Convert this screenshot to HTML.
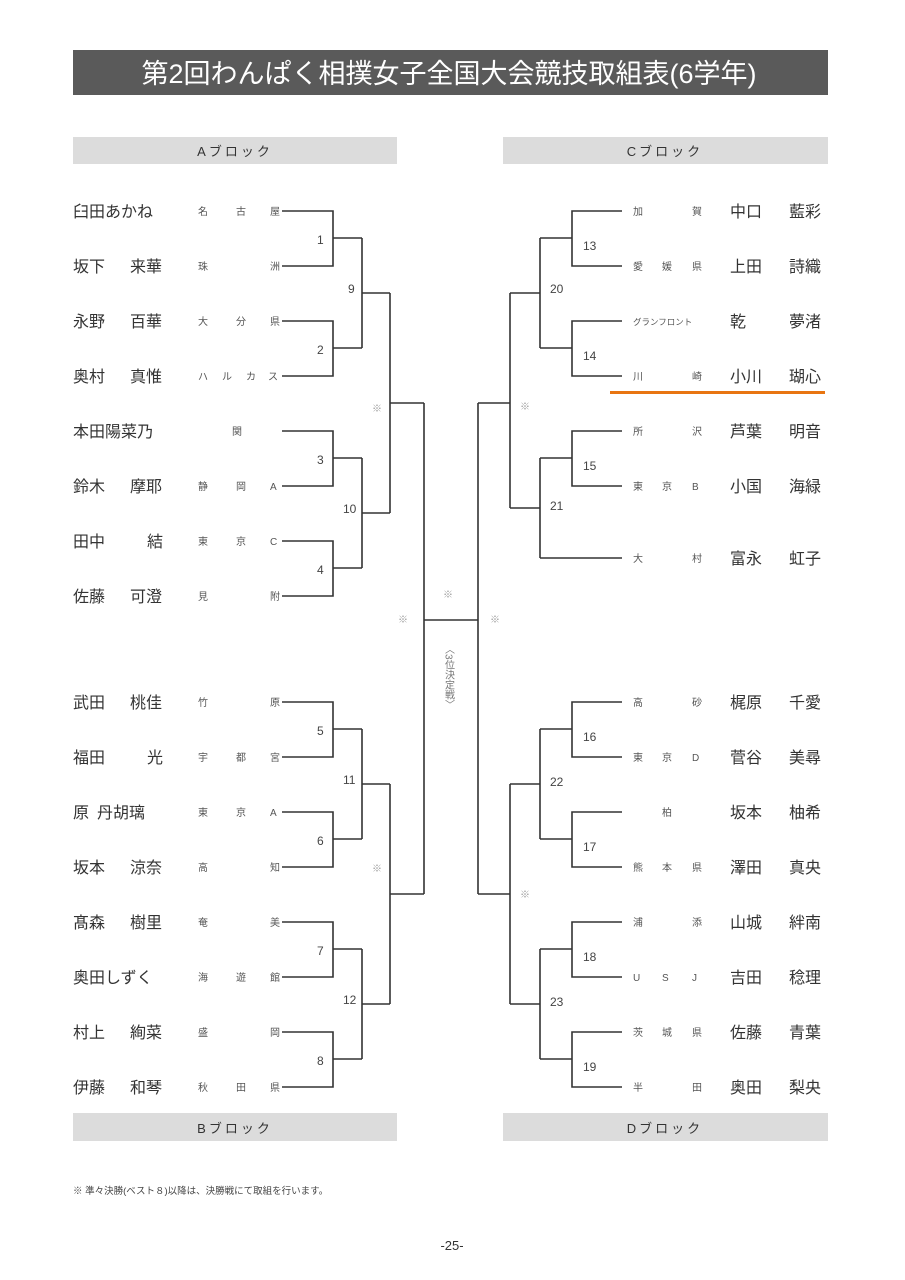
<!DOCTYPE html>
<html><head><meta charset="utf-8"><style>
html,body{margin:0;padding:0;background:#fff;}
svg{display:block;}
text{font-family:"Liberation Sans","Noto Sans CJK JP",sans-serif;}
.n{font-size:16px;fill:#333;}
.s{font-size:10px;fill:#555;}
.m{font-size:12px;fill:#444;}
.k{font-size:10px;fill:#999;}
</style></head><body>
<svg width="905" height="1280" viewBox="0 0 905 1280" xmlns="http://www.w3.org/2000/svg">
<rect x="73" y="50" width="755" height="45" fill="#5a5a5a"/>
<text x="449" y="83" text-anchor="middle" style="font-size:27px;fill:#fff">第2回わんぱく相撲女子全国大会競技取組表(6学年)</text>
<rect x="73" y="137" width="324" height="27" fill="#dcdcdc"/>
<rect x="503" y="137" width="325" height="27" fill="#dcdcdc"/>
<rect x="73" y="1113" width="324" height="28" fill="#dcdcdc"/>
<rect x="503" y="1113" width="325" height="28" fill="#dcdcdc"/>
<text x="235" y="156" text-anchor="middle" style="font-size:13px;fill:#333;letter-spacing:3px">Aブロック</text>
<text x="665" y="156" text-anchor="middle" style="font-size:13px;fill:#333;letter-spacing:3px">Cブロック</text>
<text x="235" y="1133" text-anchor="middle" style="font-size:13px;fill:#333;letter-spacing:3px">Bブロック</text>
<text x="665" y="1133" text-anchor="middle" style="font-size:13px;fill:#333;letter-spacing:3px">Dブロック</text>

<g fill="none" stroke="#333" stroke-width="1.6">
<path d="M282 211H333V266H282M333 238H362"/>
<path d="M282 321H333V376H282M333 348H362"/>
<path d="M362 238V348M362 293H390"/>
<path d="M282 431H333V486H282M333 458H362"/>
<path d="M282 541H333V596H282M333 568H362"/>
<path d="M362 458V568M362 513H390"/>
<path d="M390 293V513M390 403H424"/>
<path d="M282 702H333V757H282M333 729H362"/>
<path d="M282 812H333V867H282M333 839H362"/>
<path d="M362 729V839M362 784H390"/>
<path d="M282 922H333V977H282M333 949H362"/>
<path d="M282 1032H333V1087H282M333 1059H362"/>
<path d="M362 949V1059M362 1004H390"/>
<path d="M390 784V1004M390 894H424"/>
<path d="M424 403V894M424 620H478M478 403V894"/>
<path d="M478 403H510M478 894H510"/>
<path d="M622 211H572V266H622M572 238H540"/>
<path d="M622 321H572V376H622M572 348H540"/>
<path d="M540 238V348M540 293H510"/>
<path d="M622 431H572V486H622M572 458H540"/>
<path d="M622 558H540M540 458V558M540 508H510"/>
<path d="M510 293V508"/>
<path d="M622 702H572V757H622M572 729H540"/>
<path d="M622 812H572V867H622M572 839H540"/>
<path d="M540 729V839M540 784H510"/>
<path d="M622 922H572V977H622M572 949H540"/>
<path d="M622 1032H572V1087H622M572 1059H540"/>
<path d="M540 949V1059M540 1004H510"/>
<path d="M510 784V1004"/>
</g>
<rect x="610" y="391" width="215" height="3" fill="#e87511"/>

<g class="m">
<text x="317" y="244">1</text><text x="317" y="354">2</text><text x="317" y="464">3</text><text x="317" y="574">4</text>
<text x="317" y="735">5</text><text x="317" y="845">6</text><text x="317" y="955">7</text><text x="317" y="1065">8</text>
<text x="348" y="293">9</text><text x="343" y="513">10</text><text x="343" y="784">11</text><text x="343" y="1004">12</text>
<text x="583" y="250">13</text><text x="583" y="360">14</text><text x="583" y="470">15</text><text x="550" y="293">20</text><text x="550" y="510">21</text>
<text x="583" y="741">16</text><text x="583" y="851">17</text><text x="583" y="961">18</text><text x="583" y="1071">19</text><text x="550" y="786">22</text><text x="550" y="1006">23</text>
</g>
<g class="k">
<text x="372" y="412">※</text><text x="372" y="872">※</text><text x="398" y="623">※</text><text x="443" y="598">※</text>
<text x="490" y="623">※</text><text x="520" y="410">※</text><text x="520" y="898">※</text>
</g>
<text x="448" y="644" style="font-size:10px;fill:#777;writing-mode:tb;glyph-orientation-vertical:0">〈3位決定戦〉</text>

<g class="n">
<text x="73" y="217">臼田あかね</text>
<text x="73" y="272">坂下</text><text x="130" y="272">来華</text>
<text x="73" y="327">永野</text><text x="130" y="327">百華</text>
<text x="73" y="382">奥村</text><text x="130" y="382">真惟</text>
<text x="73" y="437">本田陽菜乃</text>
<text x="73" y="492">鈴木</text><text x="130" y="492">摩耶</text>
<text x="73" y="547">田中</text><text x="147" y="547">結</text>
<text x="73" y="602">佐藤</text><text x="130" y="602">可澄</text>
<text x="73" y="708">武田</text><text x="130" y="708">桃佳</text>
<text x="73" y="763">福田</text><text x="147" y="763">光</text>
<text x="73" y="818">原</text><text x="97" y="818">丹胡璃</text>
<text x="73" y="873">坂本</text><text x="130" y="873">涼奈</text>
<text x="73" y="928">髙森</text><text x="130" y="928">樹里</text>
<text x="73" y="983">奥田しずく</text>
<text x="73" y="1038">村上</text><text x="130" y="1038">絢菜</text>
<text x="73" y="1093">伊藤</text><text x="130" y="1093">和琴</text>
</g>
<g class="s">
<text x="198" y="215">名</text><text x="236" y="215">古</text><text x="270" y="215">屋</text>
<text x="198" y="270">珠</text><text x="270" y="270">洲</text>
<text x="198" y="325">大</text><text x="236" y="325">分</text><text x="270" y="325">県</text>
<text x="198" y="380">ハ</text><text x="222" y="380">ル</text><text x="246" y="380">カ</text><text x="268" y="380">ス</text>
<text x="232" y="435">関</text>
<text x="198" y="490">静</text><text x="236" y="490">岡</text><text x="270" y="490">A</text>
<text x="198" y="545">東</text><text x="236" y="545">京</text><text x="270" y="545">C</text>
<text x="198" y="600">見</text><text x="270" y="600">附</text>
<text x="198" y="706">竹</text><text x="270" y="706">原</text>
<text x="198" y="761">宇</text><text x="236" y="761">都</text><text x="270" y="761">宮</text>
<text x="198" y="816">東</text><text x="236" y="816">京</text><text x="270" y="816">A</text>
<text x="198" y="871">高</text><text x="270" y="871">知</text>
<text x="198" y="926">奄</text><text x="270" y="926">美</text>
<text x="198" y="981">海</text><text x="236" y="981">遊</text><text x="270" y="981">館</text>
<text x="198" y="1036">盛</text><text x="270" y="1036">岡</text>
<text x="198" y="1091">秋</text><text x="236" y="1091">田</text><text x="270" y="1091">県</text>
</g>

<g class="s">
<text x="633" y="215">加</text><text x="692" y="215">賀</text>
<text x="633" y="270">愛</text><text x="662" y="270">媛</text><text x="692" y="270">県</text>
<text x="633" y="325" style="font-size:8.5px">グランフロント</text>
<text x="633" y="380">川</text><text x="692" y="380">崎</text>
<text x="633" y="435">所</text><text x="692" y="435">沢</text>
<text x="633" y="490">東</text><text x="662" y="490">京</text><text x="692" y="490">B</text>
<text x="633" y="562">大</text><text x="692" y="562">村</text>
<text x="633" y="706">高</text><text x="692" y="706">砂</text>
<text x="633" y="761">東</text><text x="662" y="761">京</text><text x="692" y="761">D</text>
<text x="662" y="816">柏</text>
<text x="633" y="871">熊</text><text x="662" y="871">本</text><text x="692" y="871">県</text>
<text x="633" y="926">浦</text><text x="692" y="926">添</text>
<text x="633" y="981">U</text><text x="662" y="981">S</text><text x="692" y="981">J</text>
<text x="633" y="1036">茨</text><text x="662" y="1036">城</text><text x="692" y="1036">県</text>
<text x="633" y="1091">半</text><text x="692" y="1091">田</text>
</g>
<g class="n">
<text x="730" y="217">中口</text><text x="789" y="217">藍彩</text>
<text x="730" y="272">上田</text><text x="789" y="272">詩織</text>
<text x="730" y="327">乾</text><text x="789" y="327">夢渚</text>
<text x="730" y="382">小川</text><text x="789" y="382">瑚心</text>
<text x="730" y="437">芦葉</text><text x="789" y="437">明音</text>
<text x="730" y="492">小国</text><text x="789" y="492">海緑</text>
<text x="730" y="564">富永</text><text x="789" y="564">虹子</text>
<text x="730" y="708">梶原</text><text x="789" y="708">千愛</text>
<text x="730" y="763">菅谷</text><text x="789" y="763">美尋</text>
<text x="730" y="818">坂本</text><text x="789" y="818">柚希</text>
<text x="730" y="873">澤田</text><text x="789" y="873">真央</text>
<text x="730" y="928">山城</text><text x="789" y="928">絆南</text>
<text x="730" y="983">吉田</text><text x="789" y="983">稔理</text>
<text x="730" y="1038">佐藤</text><text x="789" y="1038">青葉</text>
<text x="730" y="1093">奥田</text><text x="789" y="1093">梨央</text>
</g>
<text x="73" y="1194" style="font-size:9.5px;fill:#444">※ 準々決勝(ベスト８)以降は、決勝戦にて取組を行います。</text>
<text x="452" y="1250" text-anchor="middle" style="font-size:13px;fill:#333">-25-</text>
</svg>
</body></html>
